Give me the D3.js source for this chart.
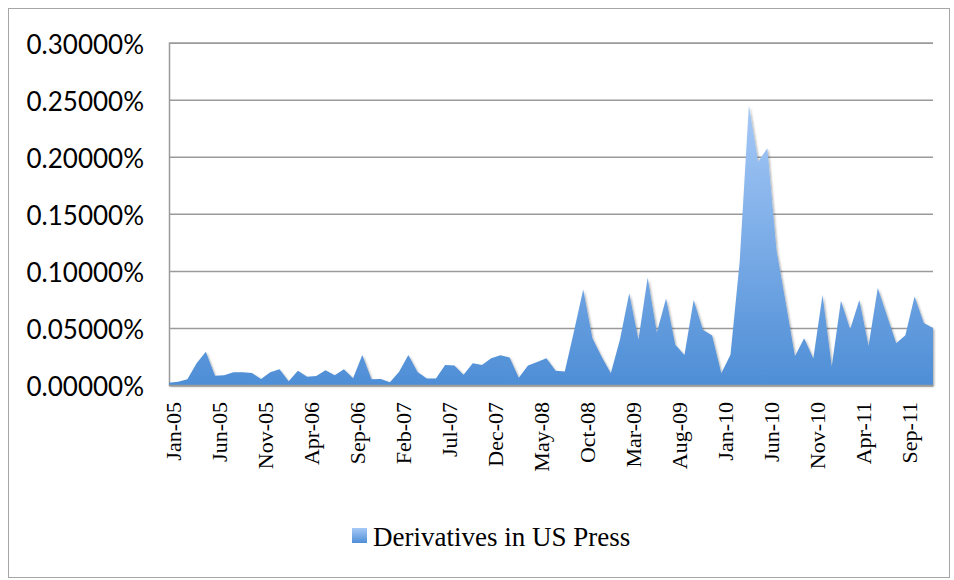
<!DOCTYPE html>
<html>
<head>
<meta charset="utf-8">
<script src="https://cdn.jsdelivr.net/npm/d3@7"></script>
<style>
  html, body { margin: 0; padding: 0; background: #fff; }
  svg { display: block; }
</style>
</head>
<body>
<svg id="chart" width="954" height="580"></svg>
<script>
// Monthly categories, Jan-05 .. Dec-11
const months = [
  "Jan-05","Feb-05","Mar-05","Apr-05","May-05","Jun-05","Jul-05","Aug-05","Sep-05","Oct-05","Nov-05","Dec-05",
  "Jan-06","Feb-06","Mar-06","Apr-06","May-06","Jun-06","Jul-06","Aug-06","Sep-06","Oct-06","Nov-06","Dec-06",
  "Jan-07","Feb-07","Mar-07","Apr-07","May-07","Jun-07","Jul-07","Aug-07","Sep-07","Oct-07","Nov-07","Dec-07",
  "Jan-08","Feb-08","Mar-08","Apr-08","May-08","Jun-08","Jul-08","Aug-08","Sep-08","Oct-08","Nov-08","Dec-08",
  "Jan-09","Feb-09","Mar-09","Apr-09","May-09","Jun-09","Jul-09","Aug-09","Sep-09","Oct-09","Nov-09","Dec-09",
  "Jan-10","Feb-10","Mar-10","Apr-10","May-10","Jun-10","Jul-10","Aug-10","Sep-10","Oct-10","Nov-10","Dec-10",
  "Jan-11","Feb-11","Mar-11","Apr-11","May-11","Jun-11","Jul-11","Aug-11","Sep-11","Oct-11","Nov-11","Dec-11"
];

// Share of US press articles mentioning derivatives (in percent)
const derivativesShare = [
  0.0020, 0.0029, 0.0050, 0.0190, 0.0292, 0.0081, 0.0085, 0.0111, 0.0111, 0.0105, 0.0053, 0.0111,
  0.0137, 0.0033, 0.0125, 0.0073, 0.0079, 0.0130, 0.0086, 0.0137, 0.0059, 0.0263, 0.0051, 0.0053,
  0.0024, 0.0117, 0.0263, 0.0114, 0.0058, 0.0058, 0.0176, 0.0172, 0.0090, 0.0191, 0.0175, 0.0234,
  0.0260, 0.0241, 0.0064, 0.0170, 0.0201, 0.0234, 0.0124, 0.0118, 0.0470, 0.0838, 0.0409, 0.0248,
  0.0102, 0.0400, 0.0805, 0.0397, 0.0940, 0.0460, 0.0759, 0.0353, 0.0263, 0.0744, 0.0485, 0.0433,
  0.0104, 0.0265, 0.1080, 0.2450, 0.1956, 0.2075, 0.1182, 0.0720, 0.0252, 0.0409, 0.0233, 0.0788,
  0.0163, 0.0738, 0.0488, 0.0744, 0.0341, 0.0850, 0.0608, 0.0365, 0.0436, 0.0776, 0.0543, 0.0500
];

const yTicks = [0, 0.05, 0.10, 0.15, 0.20, 0.25, 0.30];
const xTickLabels = months.filter((d, i) => i % 5 === 0);
const seriesName = "Derivatives in US Press";

const svg = d3.select("#chart");
const plot = { left: 169, right: 933, top: 42.7, bottom: 385 };

const x = d3.scalePoint().domain(months).range([plot.left, plot.right]);
const y = d3.scaleLinear().domain([0, 0.30]).range([plot.bottom, plot.top]);

const defs = svg.append("defs");
const grad = defs.append("linearGradient")
  .attr("id", "areaFill").attr("x1", 0).attr("y1", 0).attr("x2", 0).attr("y2", 1);
grad.append("stop").attr("offset", "0%").attr("stop-color", "#a6c9f7");
grad.append("stop").attr("offset", "100%").attr("stop-color", "#4e8ed6");

const shadow = defs.append("filter").attr("id", "softShadow")
  .attr("x", "-5%").attr("y", "-5%").attr("width", "110%").attr("height", "115%");
shadow.append("feDropShadow")
  .attr("dx", 1.2).attr("dy", 1.5).attr("stdDeviation", 1.2)
  .attr("flood-color", "#000").attr("flood-opacity", 0.35);

// Outer chart frame
svg.append("rect")
  .attr("x", 8.5).attr("y", 8.5).attr("width", 941).attr("height", 569)
  .attr("fill", "none").attr("stroke", "#a6a6a6").attr("stroke-width", 1);

// Horizontal gridlines + y labels
const yAxis = d3.axisLeft(y)
  .tickValues(yTicks)
  .tickSize(-(plot.right - plot.left))
  .tickPadding(24)
  .tickFormat(d => d3.format(".5f")(d) + "%");

const gy = svg.append("g")
  .attr("transform", `translate(${plot.left},0)`)
  .call(yAxis);
gy.select(".domain").attr("stroke", "#9a9a9a").attr("stroke-width", 1.5);
gy.selectAll(".tick line").attr("stroke", "#9a9a9a").attr("stroke-width", 1.5);
gy.selectAll(".tick text")
  .attr("x", -25)
  .attr("dy", "0.42em")
  .attr("fill", "#000")
  .style("font-family", "Lato, 'Liberation Sans', sans-serif")
  .style("font-size", "26px");

// Area
const area = d3.area()
  .x((d, i) => x(months[i]))
  .y0(y(0))
  .y1(d => y(d));

svg.append("path")
  .datum(derivativesShare)
  .attr("d", area)
  .attr("fill", "url(#areaFill)")
  .attr("filter", "url(#softShadow)");

// Category axis
const xAxis = d3.axisBottom(x)
  .tickValues(xTickLabels)
  .tickSize(0)
  .tickPadding(0);

const gx = svg.append("g")
  .attr("transform", `translate(0,${plot.bottom})`)
  .call(xAxis);
gx.select(".domain").attr("stroke", "#9a9a9a").attr("stroke-width", 1.5);
gx.selectAll(".tick text")
  .attr("transform", "rotate(-90)")
  .attr("text-anchor", "end")
  .attr("x", -17)
  .attr("y", 0)
  .attr("dy", "0.5em")
  .attr("fill", "#000")
  .style("font-family", "'Liberation Serif', 'DejaVu Serif', serif")
  .style("font-size", "22px");

// Legend
const legend = svg.append("g").attr("transform", "translate(352,528)");
legend.append("rect")
  .attr("width", 15).attr("height", 15)
  .attr("fill", "url(#areaFill)");
legend.append("text")
  .attr("x", 21).attr("y", 18)
  .attr("fill", "#000")
  .style("font-family", "'Liberation Serif', 'DejaVu Serif', serif")
  .style("font-size", "27px")
  .text(seriesName);
</script>
</body>
</html>
